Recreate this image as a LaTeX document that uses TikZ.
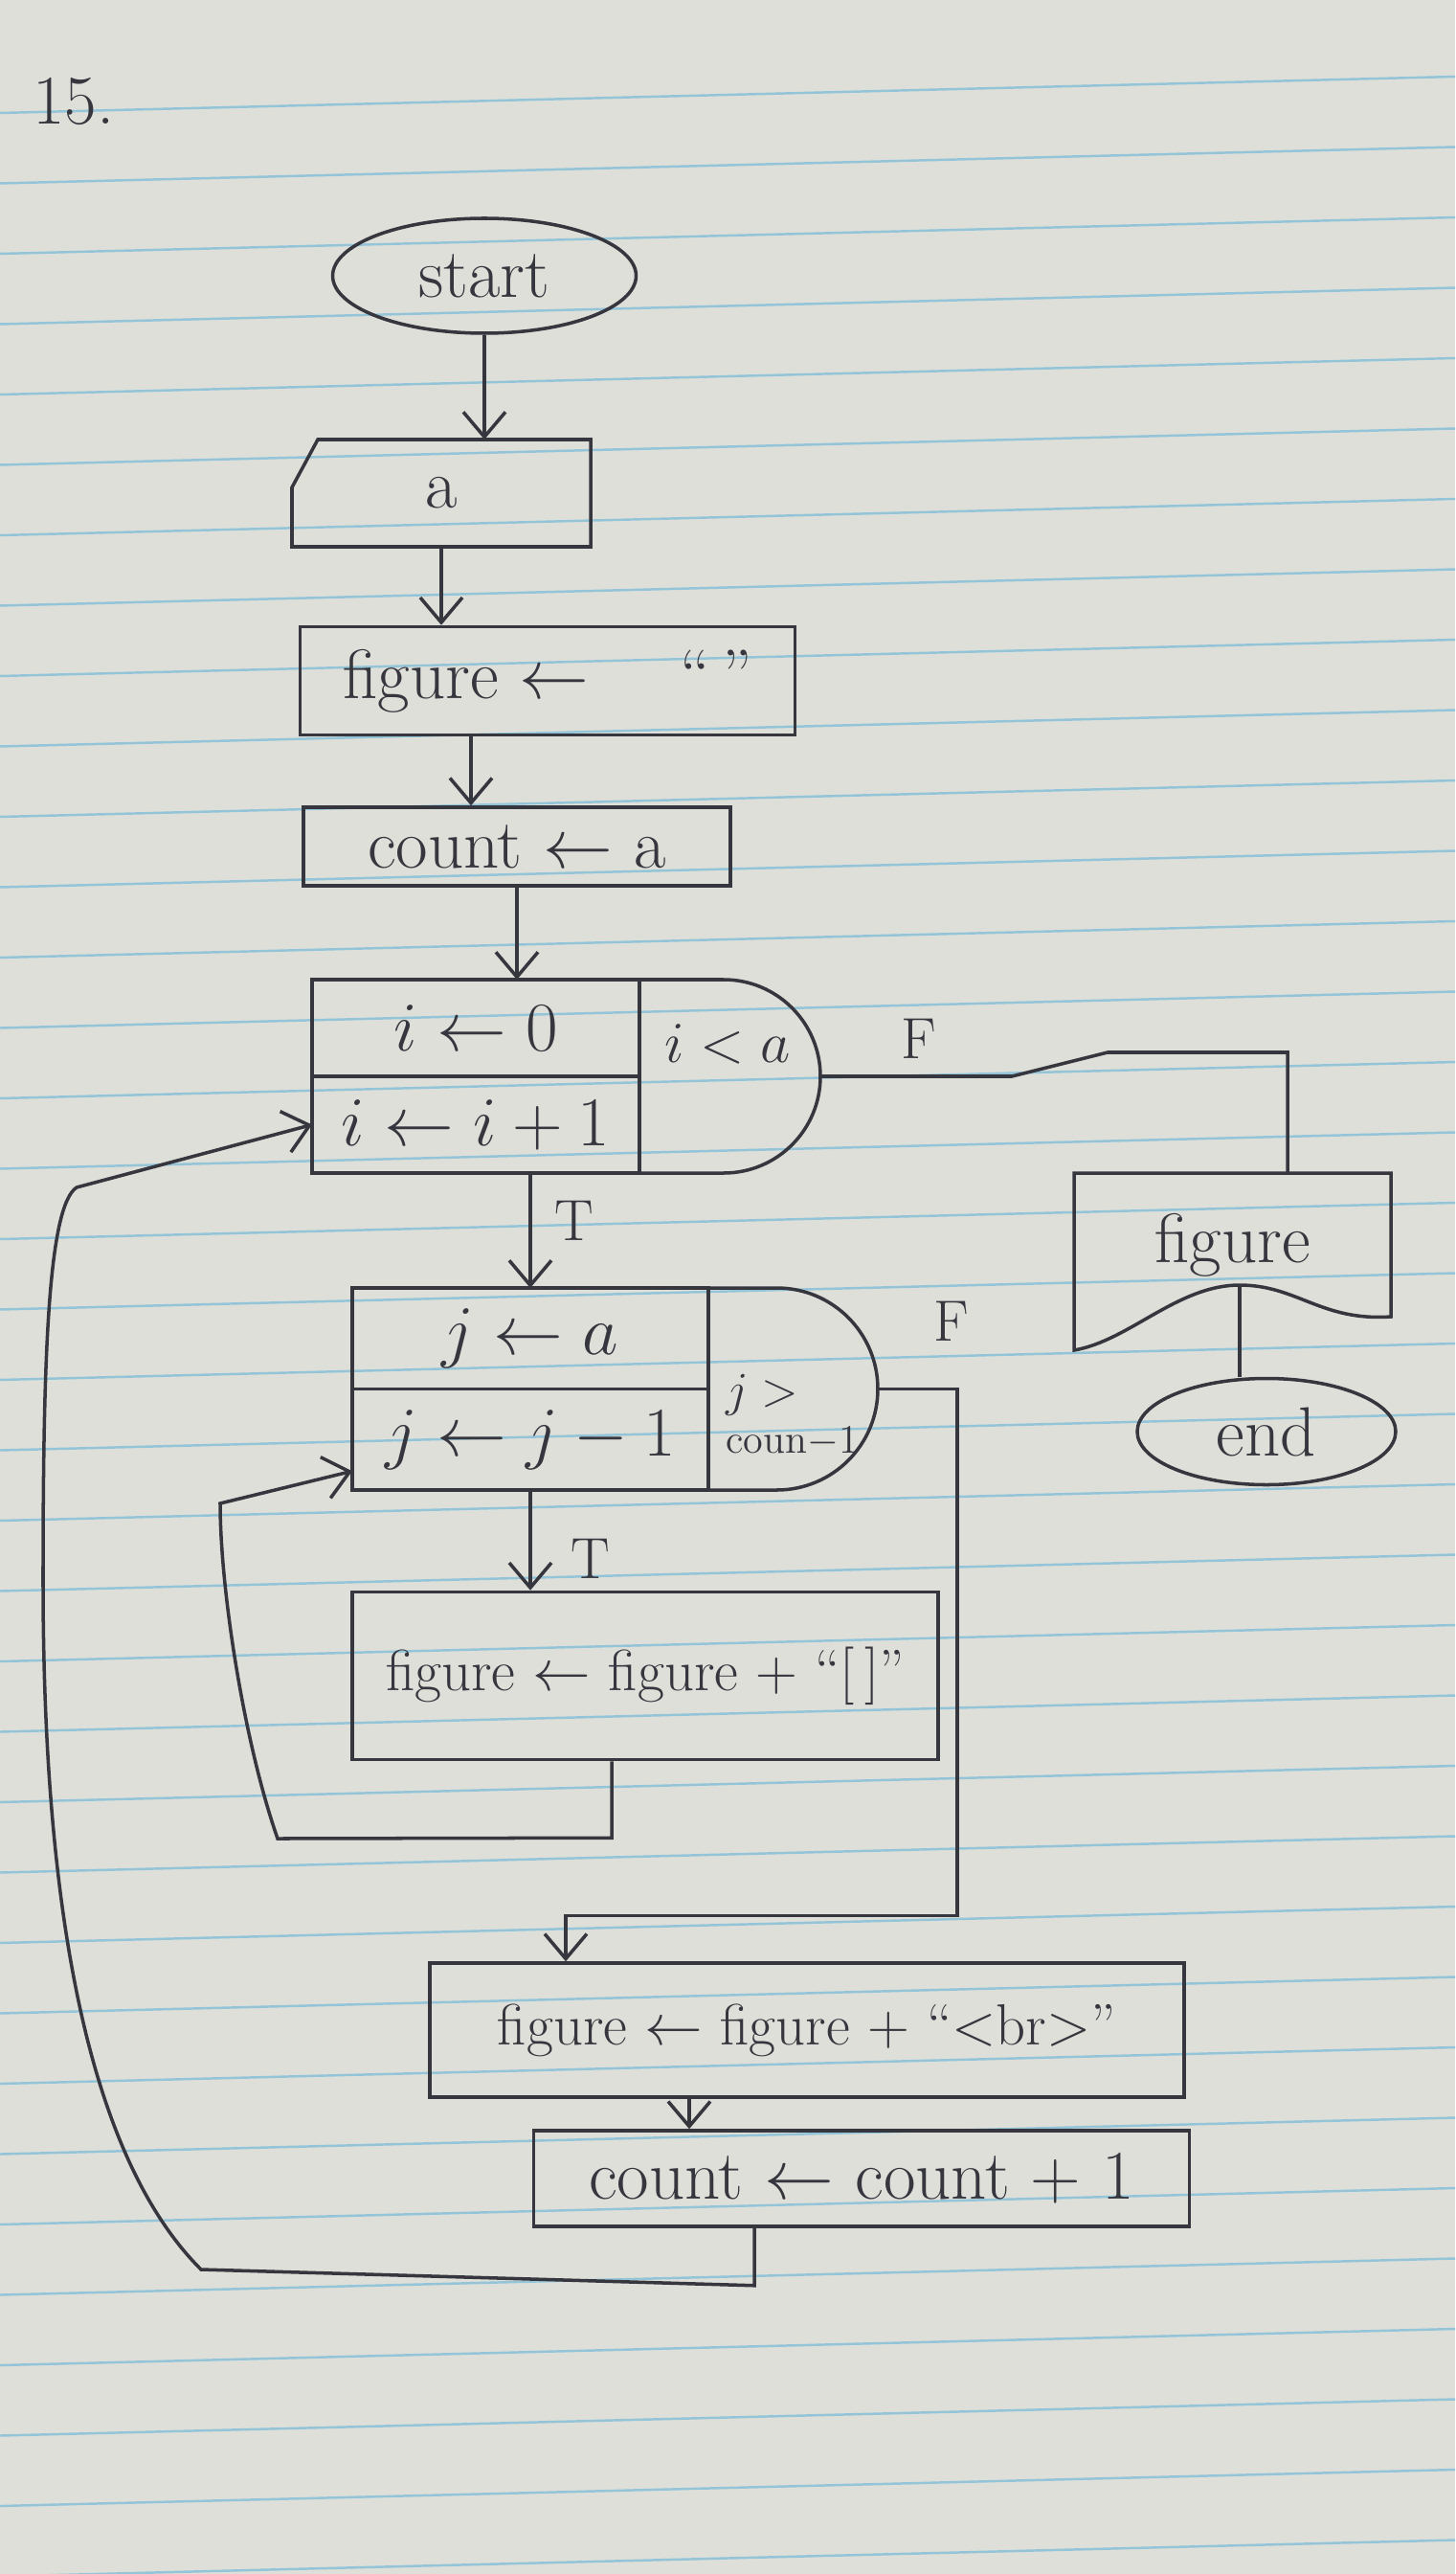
\documentclass[tikz,border=0pt]{standalone}
\usepackage{amsmath}
\usetikzlibrary{arrows.meta,shapes.geometric,positioning}

\definecolor{ink}{HTML}{36363F}
\definecolor{paper}{HTML}{DFDFD9}
\definecolor{ruleblue}{HTML}{93C4D8}

\begin{document}
\begin{tikzpicture}[line width=1pt,color=ink,>={Straight Barb[length=2.6mm,width=4.4mm]},
  every node/.style={font=\huge},
  box/.style={draw,rectangle,inner sep=3pt},
  cell/.style={draw,rectangle,minimum width=#1,minimum height=1.01cm,inner sep=0pt,outer sep=0pt},
  term/.style={draw,ellipse,inner sep=0pt},
  lbl/.style={font=\LARGE}]
  \useasboundingbox (0,0) rectangle (15.2,-26.88);
  % paper
  \fill[paper] (0,0) rectangle (15.2,-26.88);
  \begin{scope}
    \clip (0,0) rectangle (15.2,-26.88);
    \foreach \k in {0,...,35}
      \draw[ruleblue,line width=0.7pt] (0,-1.18-0.735*\k) -- (15.2,-0.8-0.735*\k);
  \end{scope}
  \node (num) at (0.77,-1.06) {15.};

  % start, input, init
  \node[term,minimum width=3.17cm,minimum height=1.2cm] (start) at (5.06,-2.88) {start};
  \node[minimum width=3.12cm,minimum height=1.12cm,outer sep=0pt] (inp) at (4.61,-5.15) {a};
  \draw ([xshift=2.7mm]inp.north west) -- (inp.north east) -- (inp.south east)
    -- (inp.south west) -- ([yshift=-5mm]inp.north west) -- cycle;
  \node[box,minimum width=5.17cm,minimum height=1.13cm] (fig0) at (5.72,-7.11)
    {figure \(\leftarrow\) \quad\textquotedblleft\,\textquotedblright};
  \node[box,minimum width=4.46cm,minimum height=0.82cm] (cnt) at (5.40,-8.84) {count \(\leftarrow\) a};
  \draw[->] (start.south) -- (start.south |- inp.north);
  \draw[->] (inp.south) -- (inp.south |- fig0.north);
  \draw[->] ([xshift=-8mm]fig0.south) -- ([xshift=-8mm]fig0.south |- cnt.north);
  \draw[->] (cnt.south) -- (cnt.south |- 0,-10.23);

  % loop over i
  \node[cell=3.42cm] (i0) at (4.97,-10.735) {$i \leftarrow 0$};
  \node[cell=3.42cm,below=0pt of i0] (i1) {$i \leftarrow i+1$};
  \draw (i0.north east) -- ++(0.88,0) arc[start angle=90,end angle=-90,radius=1.01cm] -- (i1.south east);
  \path (i0.north east) ++(1.89,-1.01) coordinate (d1);
  \node[font=\LARGE] (ic) at (7.6,-10.9) {$i<a$};

  % loop over j
  \node[cell=3.72cm,minimum height=1.055cm] (j0) at (5.54,-13.9775) {$j \leftarrow a$};
  \node[cell=3.72cm,minimum height=1.055cm,below=0pt of j0] (j1) {$j \leftarrow j-1$};
  \draw (j0.north east) -- ++(0.715,0) arc[start angle=90,end angle=-90,radius=1.055cm] -- (j1.south east);
  \path (j0.north east) ++(1.77,-1.055) coordinate (d2);
  \node[font=\large,align=left,anchor=west] (jc) at (7.45,-14.78) {{\Large $j>$}\\coun$-$1};
  \draw[->] (j0.north |- i1.south) -- (j0.north);
  \node[lbl] (t1) at (6.0,-12.75) {T};

  % body
  \node[box,font=\LARGE,minimum width=6.12cm,minimum height=1.75cm] (body) at (6.74,-17.50)
    {figure \(\leftarrow\) figure + \textquotedblleft[\,]\textquotedblright};
  \draw[->] (j1.south) -- (j1.south |- body.north);
  \node[lbl] (t2) at (6.17,-16.28) {T};
  \draw[->] ([xshift=-3.5mm]body.south) -- ++(0,-0.8) -- (2.9,-19.2)
    .. controls (2.55,-18.2) and (2.3,-16.6) .. (2.3,-15.7) -- ([yshift=-3.3mm]j1.west);

  % end of row
  \node[box,font=\LARGE,minimum width=7.88cm,minimum height=1.4cm] (br) at (8.43,-21.2)
    {figure \(\leftarrow\) figure + \textquotedblleft<br>\textquotedblright};
  \node[box,minimum width=6.85cm,minimum height=1.0cm] (cnt1) at (9.0,-22.75) {count \(\leftarrow\) count + 1};
  \draw[->] (d2) -- ++(0.83,0) -- ++(0,-5.5) -| ([xshift=-2.52cm]br.north);
  \node[lbl] (f2) at (9.94,-13.8) {F};
  \draw[->] ([xshift=-1.23cm]br.south) -- ([xshift=-1.23cm]br.south |- cnt1.north);
  \draw[->] ([xshift=-1.12cm]cnt1.south) -- ++(0,-0.6) -- (2.1,-23.7)
    .. controls (0.8,-22.4) and (0.45,-19.5) .. (0.45,-16.5)
    .. controls (0.45,-14.2) and (0.5,-12.6) .. (0.8,-12.4) -- (i1.west);

  % output and end
  \node[minimum width=3.31cm,minimum height=1.5cm,outer sep=0pt] (outfig) at (12.875,-13.0) {figure};
  \draw (outfig.north west) -- (outfig.north east) -- (outfig.south east)
    .. controls (13.8,-13.8) and (13.55,-13.42) .. (12.95,-13.42)
    .. controls (12.3,-13.42) and (11.8,-14.0) .. (11.22,-14.1) -- cycle;
  \coordinate (wv) at (12.95,-13.42);
  \node[term,minimum width=2.7cm,minimum height=1.11cm] (fin) at (13.23,-14.95) {end};
  \draw (d1) -- ++(2.0,0) -- ++(1.0,0.25) -| ([xshift=5.75mm]outfig.north);
  \node[lbl] (f1) at (9.6,-10.85) {F};
  \draw (wv) -- (wv |- fin.north);
\end{tikzpicture}
\end{document}
